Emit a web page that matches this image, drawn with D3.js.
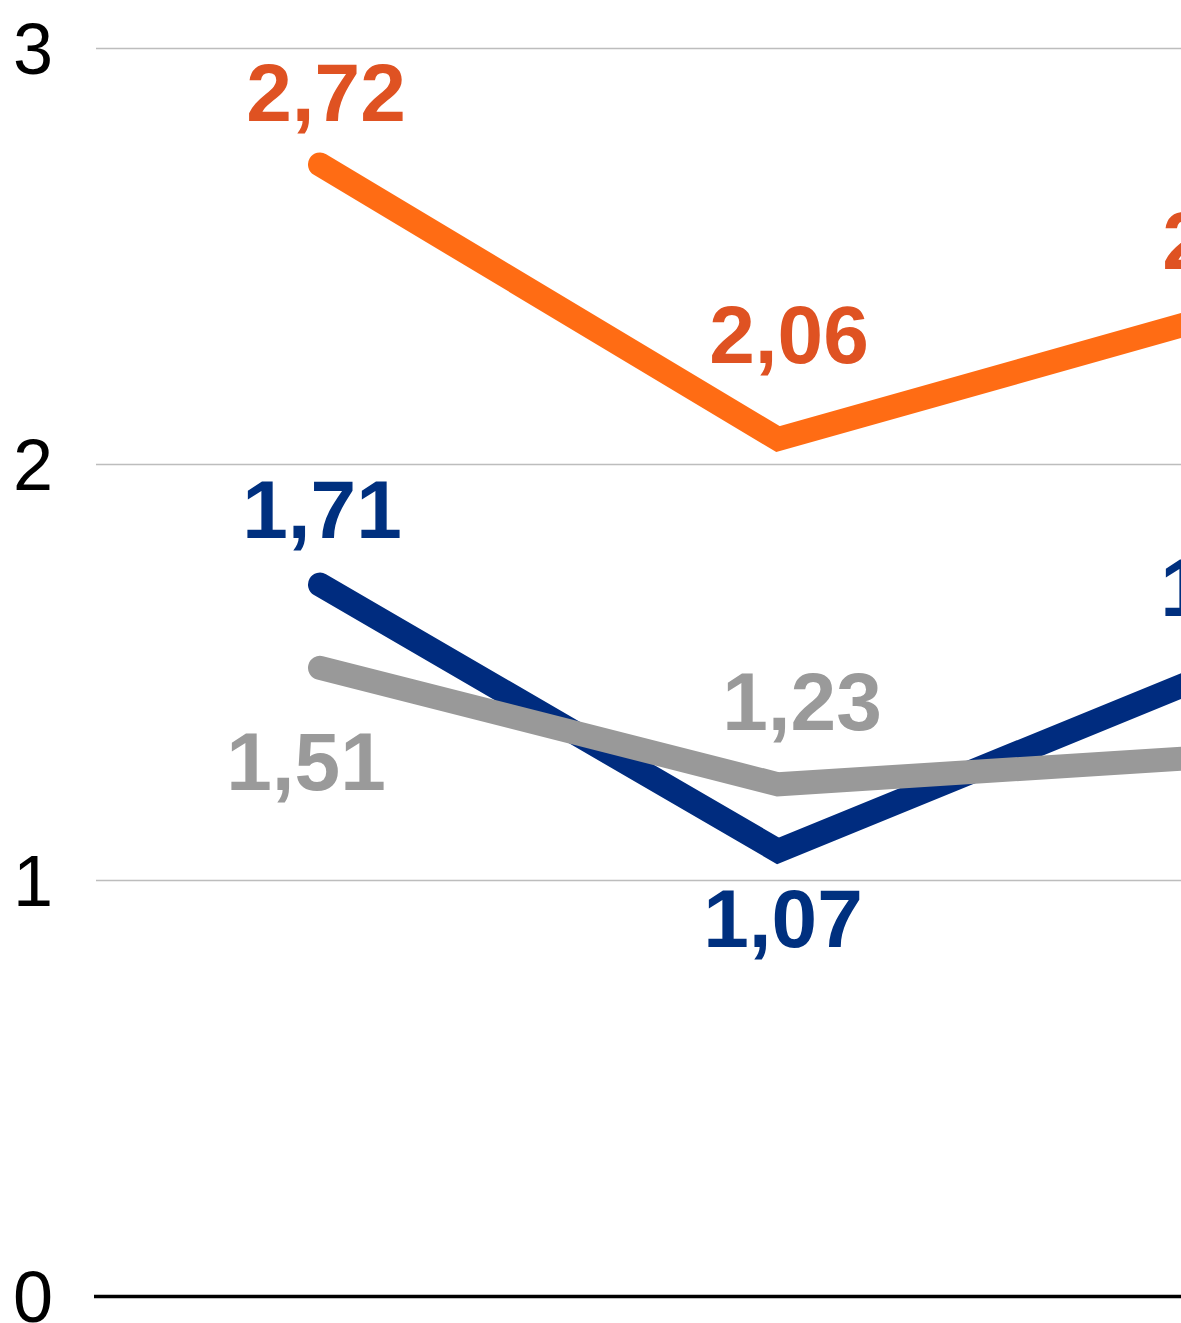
<!DOCTYPE html>
<html>
<head>
<meta charset="utf-8">
<script src="https://cdn.jsdelivr.net/npm/d3@7"></script>
<style>
  body { margin: 0; background: #fff; }
  svg { display: block; font-family: "Liberation Sans", Arial, sans-serif; }
  .grid .tick line { stroke: #bdbdbd; stroke-width: 1.5; }
  .grid .tick text { font-size: 72px; fill: #000; }
  .label { font-size: 82px; font-weight: bold; text-anchor: middle; }
</style>
</head>
<body>
<div id="chart"></div>
<script>
/* Chart data. */
const categories = ["P1", "P2", "P3"];
const orangeValues = [2.72, 2.06, 2.37];
const blueValues = [1.71, 1.07, 1.52];
const greyValues = [1.51, 1.23, 1.30];
const yTicks = [0, 1, 2, 3];

/* Label nudges (px) relative to each point: [dx, dy]. */
const orangeLabelShift = [[6, -43], [11, -76], [6, -41]];
const blueLabelShift = [[2, -47], [5, 96], [4, -48]];
const greyLabelShift = [[-14, 122], [24, -54], [90, 100]];

const chartParams = {
  width: 1181,
  height: 1323,
  left: 96,
  top: 48,
  bottom: 1296,
  firstX: 320,
  lastX: 1236
};

const series = [
  { values: orangeValues, shift: orangeLabelShift, line: "#ff6c14", text: "#df5222" },
  { values: blueValues, shift: blueLabelShift, line: "#002c7f", text: "#00307f" },
  { values: greyValues, shift: greyLabelShift, line: "#999999", text: "#9a9a9a" }
];

const svg = d3.select("#chart")
  .append("svg")
  .attr("width", chartParams.width)
  .attr("height", chartParams.height);

const x = d3.scalePoint()
  .domain(categories)
  .range([chartParams.firstX, chartParams.lastX]);

const y = d3.scaleLinear()
  .domain([0, 3])
  .range([chartParams.bottom, chartParams.top]);

/* Horizontal grid with tick numbers on the left. */
const grid = svg.append("g")
  .attr("class", "grid")
  .attr("transform", "translate(" + chartParams.left + ",0)")
  .call(d3.axisLeft(y)
    .tickValues(yTicks)
    .tickFormat(d3.format("d"))
    .tickSize(-(chartParams.width - chartParams.left))
    .tickPadding(43));

grid.select(".domain").remove();
grid.selectAll(".tick text").attr("dy", "0.36em");
grid.selectAll(".tick")
  .filter(d => d === 0)
  .select("line")
  .style("stroke", "#000")
  .style("stroke-width", 3.5)
  .attr("x1", -2);

const line = d3.line()
  .x((d, i) => x(categories[i]))
  .y(d => y(d));

/* One thick line per series. */
svg.selectAll("path.series")
  .data(series)
  .enter()
  .append("path")
  .attr("class", "series")
  .attr("d", d => line(d.values))
  .style("fill", "none")
  .style("stroke", d => d.line)
  .style("stroke-width", 24)
  .style("stroke-linecap", "round")
  .style("stroke-linejoin", "miter");

/* Value labels, with decimal comma. */
const fmt = v => d3.format(".2f")(v).replace(".", ",");

series.forEach(s => {
  svg.selectAll(null)
    .data(s.values)
    .enter()
    .append("text")
    .attr("class", "label")
    .attr("x", (d, i) => x(categories[i]) + s.shift[i][0])
    .attr("y", (d, i) => y(d) + s.shift[i][1])
    .style("fill", s.text)
    .text(fmt);
});
</script>
</body>
</html>
